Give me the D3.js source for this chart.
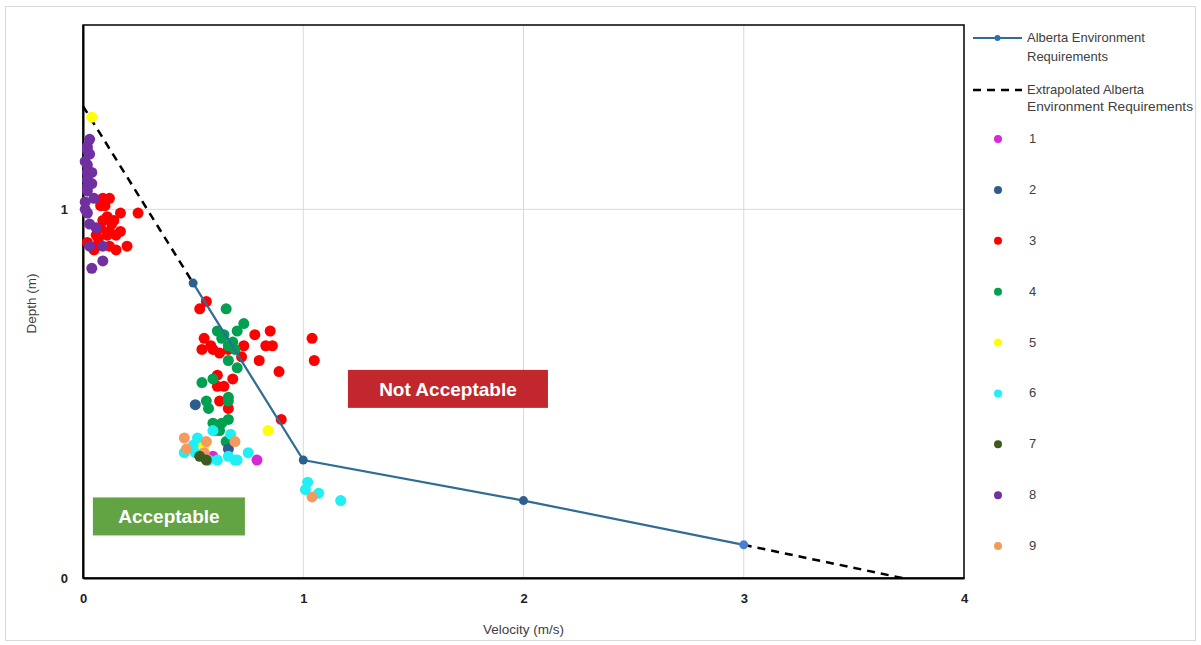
<!DOCTYPE html>
<html lang="en">
<head>
<meta charset="UTF-8">
<title>Depth vs Velocity</title>
<style>
  body { margin: 0; background: #fff; }
  text { font-family: "Liberation Sans", Arial, sans-serif; }
</style>
</head>
<body>
<svg width="1201" height="645" id="svg"></svg>
<script src="https://d3js.org/d3.v7.min.js"></script>
<script>
// requirement curve
const reqVel = [0.5, 1, 2, 3]
const reqDepth = [0.8, 0.32, 0.21, 0.09]
// extrapolated parts (two pieces)
const extVelA = [0, 0.5], extDepthA = [1.28, 0.8]
const extVelB = [3, 3.72], extDepthB = [0.09, 0]

const xTicks = [0, 1, 2, 3, 4]
const yTicks = [0, 1]
const seriesNames = ["1", "2", "3", "4", "5", "6", "7", "8", "9"]
const seriesColors = ["#d62ad6", "#2e5c8e", "#ff0000", "#00a050", "#ffff00", "#1ef0f5", "#3d5a1f", "#7030a0", "#f39a5e"]

// [velocity, depth]
const s1 = [[0.79,0.32],[0.59,0.33]]
const s2 = [[0.51,0.47],[0.66,0.35]]
const s3 = [[0.09,1.03],[0.12,1.03],[0.08,1.01],[0.17,0.99],[0.25,0.99],[0.11,0.98],[0.14,0.97],[0.08,0.95],[0.12,0.94],[0.17,0.94],[0.06,0.93],[0.11,0.93],[0.15,0.93],[0.02,0.91],[0.06,0.90],[0.12,0.90],[0.2,0.90],[0.15,0.89],[0.05,0.89],[0.10,1.01],[0.13,0.96],[0.09,0.97],[0.07,0.92],
  [0.56,0.75],[0.53,0.73],[0.55,0.65],[0.54,0.62],[0.59,0.62],[0.62,0.61],[0.73,0.63],[0.72,0.60],[0.78,0.66],[0.85,0.67],[0.83,0.63],[0.86,0.63],[0.80,0.59],[0.89,0.56],[1.04,0.65],[1.05,0.59],[0.61,0.55],[0.68,0.54],[0.61,0.52],[0.64,0.52],[0.62,0.48],[0.66,0.46],[0.9,0.43],[0.58,0.63],[0.66,0.62]]
const s4 = [[0.65,0.73],[0.73,0.69],[0.70,0.67],[0.61,0.67],[0.64,0.66],[0.66,0.63],[0.69,0.62],[0.66,0.59],[0.70,0.57],[0.59,0.54],[0.54,0.53],[0.56,0.48],[0.66,0.49],[0.66,0.48],[0.57,0.46],[0.59,0.42],[0.63,0.42],[0.66,0.43],[0.62,0.40],[0.60,0.40],[0.65,0.37],[0.68,0.64],[0.63,0.65]]
const s5 = [[0.04,1.25],[0.84,0.40],[0.52,0.37],[0.55,0.36]]
const s6 = [[0.52,0.38],[0.59,0.40],[0.67,0.39],[0.46,0.34],[0.51,0.34],[0.57,0.32],[0.61,0.32],[0.66,0.33],[0.69,0.32],[0.75,0.34],[0.50,0.36],[0.70,0.32],[1.02,0.26],[1.01,0.24],[1.07,0.23],[1.17,0.21]]
const s7 = [[0.53,0.33],[0.56,0.32]]
const s8 = [[0.03,1.19],[0.02,1.17],[0.02,1.16],[0.03,1.15],[0.02,1.12],[0.02,1.10],[0.04,1.10],[0.02,1.08],[0.02,1.06],[0.02,1.05],[0.05,1.03],[0.01,1.0],[0.02,0.99],[0.03,0.96],[0.06,0.95],[0.03,0.90],[0.09,0.90],[0.04,0.84],[0.09,0.86],[0.01,1.13],[0.04,1.07],[0.01,1.02]]
const s9 = [[0.46,0.38],[0.47,0.35],[0.56,0.37],[0.55,0.34],[0.69,0.37],[1.04,0.22]]
const seriesData = [s1, s2, s3, s4, s5, s6, s7, s8, s9]
// draw order like the original (later series on top)
const drawOrder = [2, 3, 7, 0, 1, 4, 5, 8, 6]

const svg = d3.select("svg#svg")
const margin = { left: 83, top: 25, right: 237, bottom: 67 }
const W = +svg.attr("width"), H = +svg.attr("height")
const iw = W - margin.left - margin.right
const ih = H - margin.top - margin.bottom

// outer chart border
svg.append("rect").attr("x", 5.5).attr("y", 6.5).attr("width", 1190).attr("height", 634)
  .attr("fill", "none").attr("stroke", "#d9d9d9")

const x = d3.scaleLinear().domain([0, 4]).range([0, iw])
const y = d3.scaleLinear().domain([0, 1.5]).range([ih, 0])

const g = svg.append("g").attr("transform", `translate(${margin.left},${margin.top})`)

// grid
g.append("g").selectAll("line").data(xTicks.filter(t => t > 0 && t < 4)).join("line")
  .attr("x1", d => x(d)).attr("x2", d => x(d)).attr("y1", 0).attr("y2", ih)
  .attr("stroke", "#d9d9d9").attr("stroke-width", 1)
g.append("g").selectAll("line").data(yTicks.filter(t => t > 0)).join("line")
  .attr("x1", 0).attr("x2", iw).attr("y1", d => y(d)).attr("y2", d => y(d))
  .attr("stroke", "#d9d9d9").attr("stroke-width", 1)

// frame
g.append("rect").attr("width", iw).attr("height", ih).attr("fill", "none")
  .attr("stroke", "#000").attr("stroke-width", 1.5)

// axes
const xAxis = d3.axisBottom(x).tickValues(xTicks).tickFormat(d3.format("d")).tickSize(0).tickPadding(16)
const yAxis = d3.axisLeft(y).tickValues(yTicks).tickFormat(d3.format("d")).tickSize(0).tickPadding(15)
g.append("g").attr("class", "xAxis").attr("transform", `translate(0,${ih})`).call(xAxis)
g.append("g").attr("class", "yAxis").call(yAxis)
g.selectAll(".domain").attr("stroke", "#000").attr("stroke-width", 2)
g.selectAll(".tick text").attr("font-size", 13).attr("font-weight", "bold").attr("fill", "#222")
  .attr("font-family", "Liberation Sans Narrow, Liberation Sans, sans-serif")

svg.append("text").attr("x", margin.left + iw / 2).attr("y", 634).attr("text-anchor", "middle")
  .attr("font-size", 13.5).attr("fill", "#404040").text("Velocity (m/s)")
svg.append("text").attr("transform", `translate(36,${margin.top + ih / 2 + 2}) rotate(-90)`)
  .attr("text-anchor", "middle").attr("font-size", 13.5).attr("fill", "#404040").text("Depth (m)")

// region labels
function box(cx, cy, w, h, fill, label, fs) {
  g.append("rect").attr("x", cx - w / 2).attr("y", cy - h / 2).attr("width", w).attr("height", h).attr("fill", fill)
  g.append("text").attr("x", cx).attr("y", cy + fs * 0.36).attr("text-anchor", "middle")
    .attr("font-size", fs).attr("font-weight", "bold").attr("fill", "#fff")
    .attr("font-family", "Open Sans, sans-serif").text(label)
}
box(x(1.657), y(0.513), 200, 38, "#c1272d", "Not Acceptable", 19)
box(x(0.39), y(0.167), 152, 38, "#62a343", "Acceptable", 19)

// dashed extrapolation
const line = d3.line().x(d => x(d[0])).y(d => y(d[1]))
const zip = (a, b) => a.map((v, i) => [v, b[i]])
;[zip(extVelA, extDepthA), zip(extVelB, extDepthB)].forEach(seg => {
  g.append("path").attr("d", line(seg)).attr("fill", "none").attr("stroke", "#000")
    .attr("stroke-width", 2.5).attr("stroke-dasharray", "8,6")
})

// scatter series
drawOrder.forEach(i => {
  g.append("g").selectAll("circle").data(seriesData[i]).join("circle")
    .attr("cx", d => x(d[0])).attr("cy", d => y(d[1])).attr("r", 5.5)
    .attr("fill", seriesColors[i])
})

// requirement line
const req = zip(reqVel, reqDepth)
g.append("path").attr("d", line(req)).attr("fill", "none").attr("stroke", "#2f6d94").attr("stroke-width", 2.2)
g.append("g").selectAll("circle").data(req).join("circle")
  .attr("cx", d => x(d[0])).attr("cy", d => y(d[1])).attr("r", 4.5)
  .attr("fill", (d, i) => i === req.length - 1 ? "#4a7fd0" : "#2e5f91")

// legend
const fs = 13
const lg = svg.append("g").attr("transform", "translate(973,0)")
lg.append("line").attr("x1", 0).attr("x2", 49).attr("y1", 38).attr("y2", 38).attr("stroke", "#2f6d94").attr("stroke-width", 2)
lg.append("circle").attr("cx", 24.5).attr("cy", 38).attr("r", 3).attr("fill", "#2e6fb0")
lg.append("text").attr("x", 54).attr("y", 42).attr("font-size", fs).attr("fill", "#404040").text("Alberta Environment")
lg.append("text").attr("x", 54).attr("y", 61).attr("font-size", fs).attr("fill", "#404040").text("Requirements")
lg.append("line").attr("x1", 0).attr("x2", 49).attr("y1", 90).attr("y2", 90).attr("stroke", "#000")
  .attr("stroke-width", 2.5).attr("stroke-dasharray", "8,6")
lg.append("text").attr("x", 54).attr("y", 94).attr("font-size", fs).attr("fill", "#404040").text("Extrapolated Alberta")
lg.append("text").attr("x", 54).attr("y", 111).attr("font-size", fs).attr("fill", "#404040")
  .attr("textLength", 166).attr("lengthAdjust", "spacingAndGlyphs").text("Environment Requirements")

const ly = d3.scalePoint().domain(seriesNames).range([139, 546])
seriesNames.forEach((n, i) => {
  lg.append("circle").attr("cx", 25).attr("cy", ly(n)).attr("r", 4).attr("fill", seriesColors[i])
  lg.append("text").attr("x", 56).attr("y", ly(n) + 4).attr("font-size", fs).attr("fill", "#404040").text(n)
})
</script>
</body>
</html>
